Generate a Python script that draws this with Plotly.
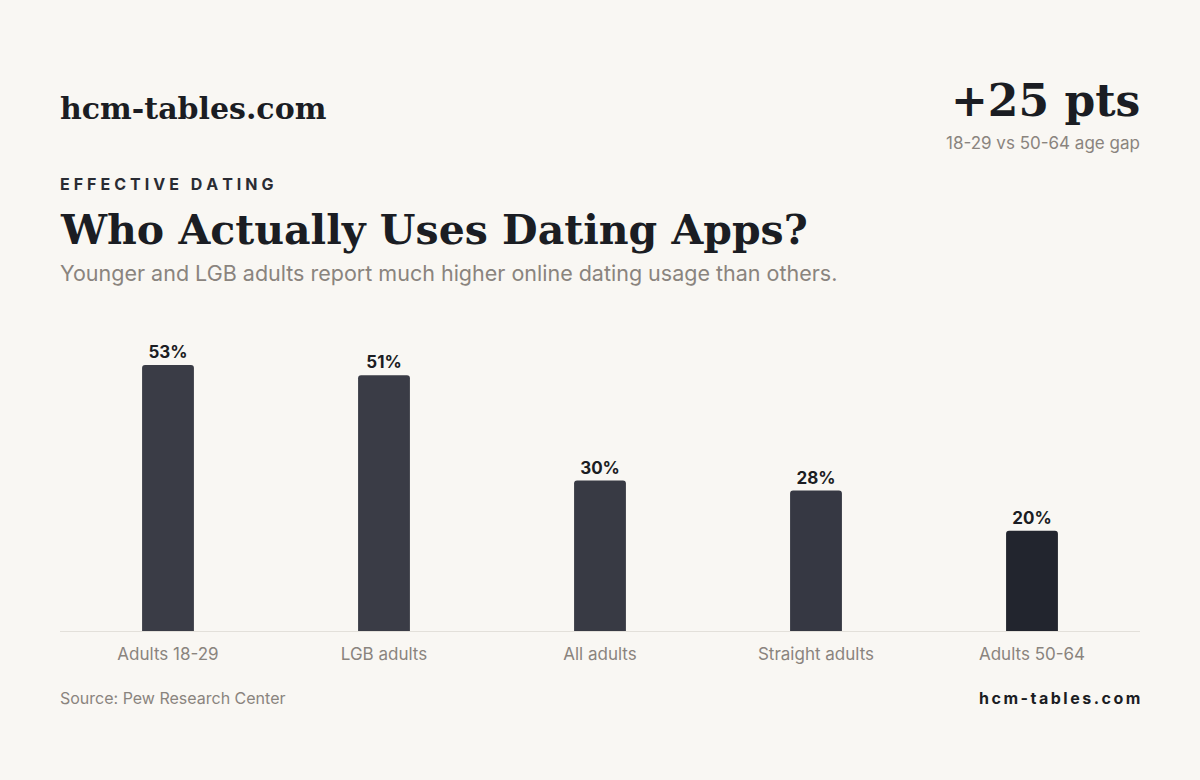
import plotly.graph_objects as go

categories = ["Adults 18-29", "LGB adults", "All adults", "Straight adults", "Adults 50-64"]
values = [53, 51, 30, 28, 20]
labels = [f"<b>{v}%</b>" for v in values]

bg = "#f9f7f3"
dark = "#1b1d23"
gray = "#8a847e"
bar_colors = ["#3a3c46", "#3a3c46", "#383a44", "#363843", "#22252e"]

fig = go.Figure(go.Bar(
    x=categories, y=values, width=0.24,
    marker=dict(color=bar_colors, line=dict(width=0), cornerradius=3),
    text=labels, textposition="outside", cliponaxis=False,
    textfont=dict(family="Inter", size=17, color=dark),
))

fig.update_layout(
    width=1200, height=780,
    paper_bgcolor=bg, plot_bgcolor=bg,
    margin=dict(l=60, r=60, t=330, b=149),
    showlegend=False,
    xaxis=dict(showgrid=False, showline=True, linecolor="#e3e0da", linewidth=1,
               ticks="outside", ticklen=8, tickcolor=bg,
               tickfont=dict(family="Inter", size=17, color=gray)),
    yaxis=dict(range=[0, 60], visible=False),
)

def txt(x, y, s, size, color, family="Inter", anchor="left", weight="normal"):
    fig.add_annotation(xref="paper", yref="paper", x=x, y=y, text=s, showarrow=False,
                       xanchor=anchor, yanchor="middle", xshift=-2 if anchor == "left" else 2,
                       font=dict(family=family, size=size, color=color, weight=weight))

def py(pix):
    # pixel row -> paper coordinate
    return (631 - pix) / 301

def spaced(s, gap="\u2009"):
    return gap.join(s)

txt(0, py(108), "hcm-tables.com", 30, dark, "DejaVu Serif", weight="bold")
txt(1, py(100), "+25 pts", 44, dark, "DejaVu Serif", anchor="right", weight="bold")
txt(1, py(143), "18-29 vs 50-64 age gap", 17, gray, anchor="right")
txt(0, py(184), spaced("EFFECTIVE DATING", "\u2005"), 16, "#2a2c33", weight="bold")
txt(0, py(230), "Who Actually Uses Dating Apps?", 41, dark, "DejaVu Serif", weight="bold")
txt(0, py(273), "Younger and LGB adults report much higher online dating usage than others.", 21.5, gray)
txt(0, py(698), "Source: Pew Research Center", 16, gray)
txt(1, py(698), spaced("hcm-tables.com"), 16, dark, anchor="right", weight="bold")

fig.write_html("out.html", config={"displayModeBar": False},
               post_script="document.body.style.margin='0';document.body.style.padding='0';")
